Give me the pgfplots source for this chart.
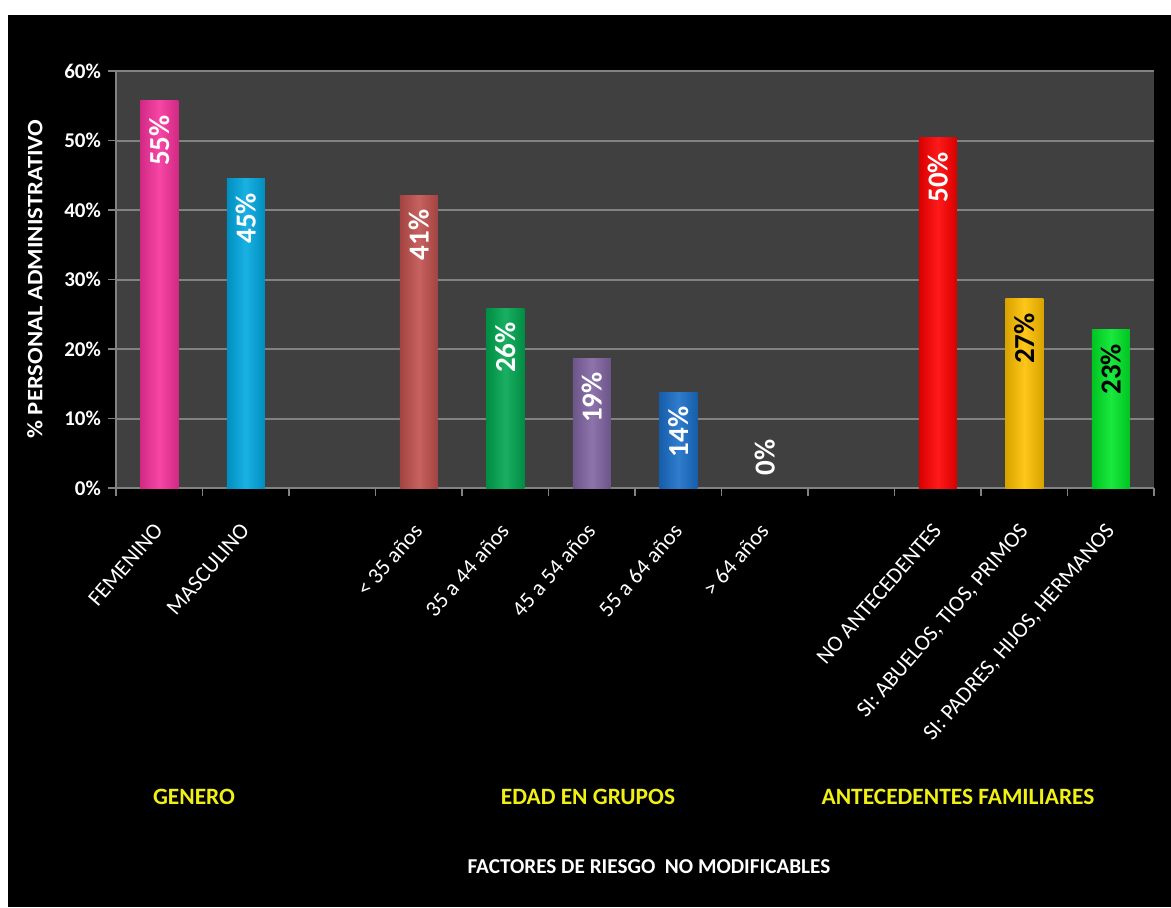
\documentclass[border=0pt]{standalone}
\usepackage{pgfplots}
\pgfplotsset{compat=1.18}
\usepackage{fontspec}
\setmainfont{Carlito}
\definecolor{plotbg}{RGB}{64,64,64}
\definecolor{gridgray}{RGB}{130,130,130}
\definecolor{cpink}{RGB}{247,49,155}
\definecolor{ccyan}{RGB}{0,168,224}
\definecolor{csalmon}{RGB}{192,80,77}
\definecolor{cgreen}{RGB}{0,166,80}
\definecolor{cpurple}{RGB}{128,100,162}
\definecolor{cblue}{RGB}{25,110,200}
\definecolor{cred}{RGB}{255,0,0}
\definecolor{cgold}{RGB}{255,192,0}
\definecolor{clime}{RGB}{0,230,40}
\definecolor{cyell}{RGB}{240,240,20}
\pgfplotsset{bar3d/.style={draw=none, left color=#1!85!black, right color=#1!85!black, middle color=#1!90!white}}
\begin{document}
\begin{tikzpicture}
\fill[white] (0,0) rectangle (585.5pt,453.5pt);
\fill[black] (4pt,0) rectangle (585.5pt,446pt);
\begin{axis}[
  at={(58pt,209.5pt)}, anchor=south west,
  scale only axis, width=519pt, height=208.5pt,
  xmin=-0.5, xmax=11.5, ymin=0, ymax=60,
  axis background/.style={fill=plotbg},
  axis x line*=bottom, axis y line*=left,
  axis line style={draw=gridgray, line width=1pt},
  ytick={0,10,...,60},
  yticklabels={0\%,10\%,20\%,30\%,40\%,50\%,60\%},
  xtick={0,...,11},
  xticklabels={FEMENINO,MASCULINO,,< 35 años,35 a 44 años,45 a 54 años,55 a 64 años,> 64 años,,NO ANTECEDENTES,{SI: ABUELOS, TIOS, PRIMOS},{SI: PADRES, HIJOS, HERMANOS}},
  minor xtick={-0.5,0.5,...,11.5},
  tick align=outside,
  major tick length=4pt, minor tick length=4pt,
  major x tick style={draw=none},
  tick style={draw=gridgray, line width=0.8pt},
  ymajorgrids, grid style={draw=gridgray, line width=1pt},
  xticklabel style={yshift=-8pt, xshift=-3.5pt, rotate=49, anchor=north east, text=white, font=\fontsize{11.2}{12}\selectfont},
  yticklabel style={text=white, font=\bfseries\fontsize{10.5}{12}\selectfont},
  ybar, bar width=19pt, bar shift=0pt,
  nodes near coords style={rotate=90, anchor=east, inner xsep=7pt, font=\bfseries\fontsize{14.5}{15}\selectfont, text=white},
]
\addplot[bar3d=cpink, nodes near coords={55\%}] coordinates {(0,55.7)};
\addplot[bar3d=ccyan, nodes near coords={45\%}] coordinates {(1,44.5)};
\addplot[bar3d=csalmon, nodes near coords={41\%}] coordinates {(3,42.1)};
\addplot[bar3d=cgreen, nodes near coords={26\%}] coordinates {(4,25.9)};
\addplot[bar3d=cpurple, nodes near coords={19\%}] coordinates {(5,18.7)};
\addplot[bar3d=cblue, nodes near coords={14\%}] coordinates {(6,13.8)};
\addplot[draw=none, fill=none, nodes near coords={0\%}, nodes near coords style={anchor=west, inner xsep=6pt}] coordinates {(7,0)};
\addplot[bar3d=cred, nodes near coords={50\%}] coordinates {(9,50.4)};
\addplot[bar3d=cgold, nodes near coords={27\%}, nodes near coords style={text=black}] coordinates {(10,27.2)};
\addplot[bar3d=clime, nodes near coords={23\%}, nodes near coords style={text=black}] coordinates {(11,22.8)};
\end{axis}
\node[rotate=90, text=white, font=\bfseries\fontsize{11}{12}\selectfont] at (17.5pt,314pt) {\scalebox{1.12}[1]{\% PERSONAL ADMINISTRATIVO}};
\node[text=cyell, font=\bfseries\fontsize{11.7}{13}\selectfont] at (97pt,55pt) {GENERO};
\node[text=cyell, font=\bfseries\fontsize{11.7}{13}\selectfont] at (294pt,55pt) {EDAD EN GRUPOS};
\node[text=cyell, font=\bfseries\fontsize{11.7}{13}\selectfont] at (479pt,55pt) {ANTECEDENTES FAMILIARES};
\node[text=white, font=\bfseries\fontsize{10.6}{12}\selectfont] at (324.5pt,20pt) {FACTORES DE RIESGO\ \ NO MODIFICABLES};
\end{tikzpicture}
\end{document}
